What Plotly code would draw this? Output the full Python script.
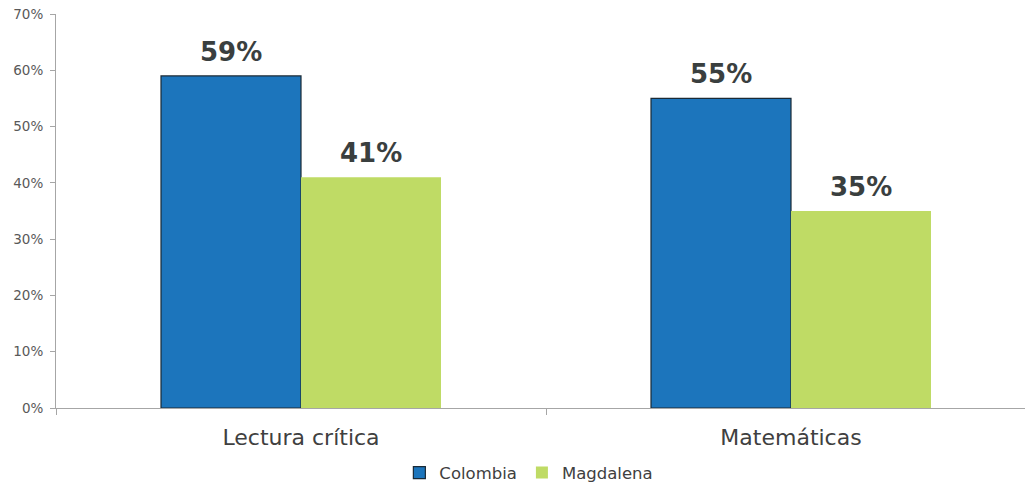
import plotly.graph_objects as go

categories = ["Lectura crítica", "Matemáticas"]
colombia = [0.59, 0.55]
magdalena = [0.41, 0.35]
y_ticks = [0, 0.1, 0.2, 0.3, 0.4, 0.5, 0.6, 0.7]
y_tick_labels = ["0%", "10%", "20%", "30%", "40%", "50%", "60%", "70%"]

FONT = "DejaVu Sans"

fig = go.Figure()
fig.add_trace(go.Bar(
    name="Colombia", x=categories, y=colombia,
    marker=dict(color="#1c75bc", line=dict(color="#1a2a36", width=1.2)),
))
fig.add_trace(go.Bar(
    name="Magdalena", x=categories, y=magdalena,
    marker=dict(color="#bfdb65", line=dict(width=0)),
))

# data labels above the bars
for series, shift in ((colombia, -70), (magdalena, 70)):
    for cat, v in zip(categories, series):
        fig.add_annotation(
            x=cat, y=v, xref="x", yref="y", text=f"{v*100:.0f}%",
            showarrow=False, xanchor="center", yanchor="bottom",
            xshift=shift, yshift=7,
            font=dict(size=26, color="#3a3f3f", family=FONT, weight="bold"),
        )

fig.update_layout(
    width=1037, height=486,
    margin=dict(l=56, r=1, t=14, b=78),
    paper_bgcolor="white", plot_bgcolor="white",
    barmode="group", bargap=0.4286, bargroupgap=0,
    font=dict(family=FONT, color="#404040"),
    showlegend=True,
    legend=dict(orientation="h", x=0.51, xanchor="center",
                xref="container", yref="container", y=0.027, yanchor="middle",
                font=dict(size=16.5, color="#404040"), traceorder="normal",
                itemwidth=30, tracegroupgap=0),
)
fig.update_xaxes(
    showline=True, linecolor="#a6a6a6", linewidth=1,
    ticks="outside", tickson="boundaries", ticklen=6, tickcolor="#a6a6a6",
    tickfont=dict(size=22, color="#404040"), showgrid=False, automargin=False,
    ticklabelstandoff=10,
)
fig.update_yaxes(
    range=[0, 0.7], tickvals=y_ticks, ticktext=y_tick_labels,
    showline=True, linecolor="#a6a6a6", linewidth=1,
    ticks="outside", ticklen=5, tickcolor="#a6a6a6",
    tickfont=dict(size=13.5, color="#595959"), showgrid=False, zeroline=False,
    automargin=False, ticklabelstandoff=4,
)

fig.write_html(
    "out.html",
    config={"displayModeBar": False},
    post_script="document.body.style.margin='0';document.body.style.overflow='hidden';",
)
